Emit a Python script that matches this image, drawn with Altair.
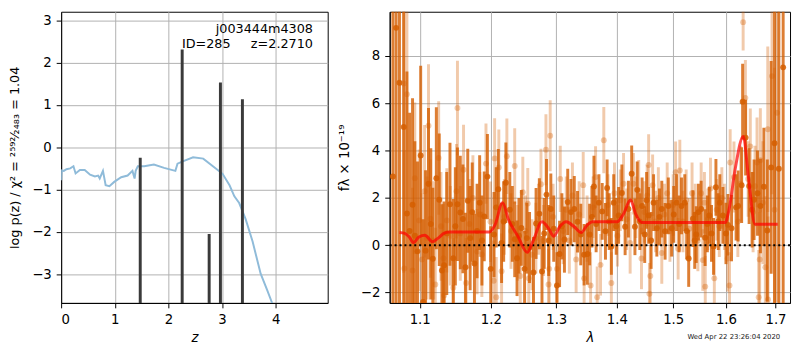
import altair as alt
import pandas as pd

FONT = "DejaVu Sans"
ORANGE = "#d55e00"

# ---------------- left panel: log p(z) ----------------
z_curve = [0.00, 0.01, 0.05, 0.10, 0.17, 0.23, 0.27, 0.35, 0.44, 0.54,
           0.63, 0.69, 0.72, 0.78, 0.83, 0.90, 0.99, 1.12, 1.24, 1.33,
           1.37, 1.39, 1.43, 1.55, 1.73, 1.92, 2.13, 2.17, 2.28, 2.46,
           2.65, 2.83, 3.01, 3.14, 3.23, 3.32, 3.44, 3.57, 3.72, 3.84,
           3.93, 4.00]
logp_curve = [-0.78, -0.55, -0.56, -0.52, -0.50, -0.45, -0.62, -0.54, -0.54, -0.65,
              -0.69, -0.67, -0.74, -0.56, -0.90, -0.92, -0.82, -0.71, -0.67, -0.56,
              -0.74, -0.56, -0.45, -0.45, -0.41, -0.49, -0.56, -0.39, -0.33, -0.24,
              -0.27, -0.45, -0.63, -0.90, -1.16, -1.32, -1.70, -2.23, -2.99, -3.37,
              -3.67, -3.95]
z_peaks = [1.475, 2.257, 2.76, 2.97, 3.38]
peak_top = [-0.25, 2.31, -2.05, 1.53, 1.13]
peak_bottom = [-4.0, -4.0, -4.0, -4.0, -4.0]
z_ticks = [0, 1, 2, 3, 4]
logp_ticks = [-3, -2, -1, 0, 1, 2, 3]
label_lines = ["j003444m4308", "ID=285\u00a0\u00a0\u00a0\u00a0\u00a0z=2.2710"]

# ---------------- right panel: spectrum ----------------
lam_dark = [1.0645, 1.0687, 1.0731, 1.0787, 1.0829, 1.0865, 1.0904, 1.0935, 1.0970, 1.1013,
            1.1045, 1.1079, 1.1119, 1.1150, 1.1178, 1.1226, 1.1266, 1.1303, 1.1333, 1.1370,
            1.1415, 1.1461, 1.1490, 1.1520, 1.1560, 1.1597, 1.1633, 1.1666, 1.1700, 1.1730,
            1.1762, 1.1800, 1.1837, 1.1870, 1.1904, 1.1950, 1.1999, 1.2047, 1.2080, 1.2110,
            1.2159, 1.2190, 1.2223, 1.2282, 1.2320, 1.2356, 1.2391, 1.2420, 1.2457, 1.2506,
            1.2540, 1.2582, 1.2643, 1.2683, 1.2734, 1.2775, 1.2810, 1.2846, 1.2880, 1.2914,
            1.2960, 1.3011, 1.3053, 1.3090, 1.3131, 1.3184, 1.3236, 1.3290, 1.3343, 1.3396,
            1.3451, 1.3505, 1.3542, 1.3580, 1.3614, 1.3650, 1.3697, 1.3752, 1.3807, 1.3835,
            1.3870, 1.3907, 1.3947, 1.3990, 1.4031, 1.4087, 1.4143, 1.4200, 1.4257, 1.4314,
            1.4354, 1.4400, 1.4440, 1.4486, 1.4520, 1.4556, 1.4600, 1.4644, 1.4703, 1.4750,
            1.4792, 1.4852, 1.4911, 1.4972, 1.5010, 1.5062, 1.5110, 1.5153, 1.5214, 1.5250,
            1.5287, 1.5367, 1.5400, 1.5429, 1.5470, 1.5522, 1.5597, 1.5640, 1.5678, 1.5720,
            1.5759, 1.5805, 1.5850, 1.5880, 1.5940, 1.6000, 1.6040, 1.6110, 1.6200, 1.6240,
            1.6310, 1.6330, 1.6390, 1.6460, 1.6520, 1.6560, 1.6630, 1.6690, 1.6760, 1.6830,
            1.6910, 1.6980, 1.7070, 1.7160]
f_dark = [2.91, 9.19, 6.87, 5.0, 1.34, 0.6, 1.71, 0.4, -0.26, 3.79,
          -2.4, -0.23, 2.6, 0.9, -0.57, 2.83, 1.92, -1.07, -0.85, 0.5,
          1.73, -0.55, 0.8, 1.73, 1.38, 1.11, -0.93, 1.88, 0.3, 1.4,
          -0.77, 0.6, 1.8, 0.2, 1.22, 2.9, -1.0, 0.45, 1.6, 2.37,
          0.1, 1.0, 2.64, 1.5, 0.9, 0.25, -0.55, 0.4, 0.73, -1.0,
          0.3, -0.1, -1.15, 0.92, 1.33, -1.11, 0.5, 2.14, 0.2, 1.53,
          0.7, -1.7, -0.37, 0.8, 0.24, 1.83, 1.4, 1.53, 0.99, 0.45,
          -0.4, -0.37, 0.45, 1.2, 2.48, 0.9, 1.8, 1.43, 0.59, 2.42,
          1.0, -0.05, 1.8, 0.8, 1.26, 2.21, 0.78, 1.53, 3.02, 0.78,
          2.34, 1.0, 1.66, 0.45, 1.9, 1.26, 0.2, 1.8, 0.72, 1.2,
          1.53, 0.59, 1.66, 0.72, 1.3, 1.8, 0.9, 1.66, 1.8, 0.6,
          -0.56, 1.12, 0.2, 0.45, 1.4, 1.53, 0.32, 0.9, 1.26, 0.5,
          -0.05, 2.45, 1.0, 1.8, 1.26, 0.5, 0.86, 0.72, 1.6, 1.66,
          2.54, 6.07, 4.55, 2.5, 1.5, 1.92, 2.2, 1.66, 2.47, 0.62,
          3.29, 4.31, 3.23, 7.52]
e_dark = [12, 12, 10, 8, 6, 5, 4.5, 4, 3.8, 3.8,
          3.5, 3.4, 3.2, 3.2, 3.0, 3.0, 2.8, 2.8, 2.7, 2.6,
          2.6, 2.5, 2.5, 2.4, 2.4, 2.3, 2.3, 2.2, 2.2, 2.1,
          2.1, 2.0, 2.0, 1.9, 1.9, 1.8, 1.8, 1.8, 1.7, 1.7,
          1.7, 1.7, 1.7, 1.6, 1.6, 1.6, 1.6, 1.6, 1.6, 1.6,
          1.5, 1.5, 1.5, 1.5, 1.5, 1.5, 1.5, 1.5, 1.5, 1.5,
          1.4, 1.4, 1.4, 1.4, 1.4, 1.4, 1.4, 1.4, 1.3, 1.3,
          1.3, 1.3, 1.3, 1.3, 1.3, 1.2, 1.2, 1.2, 1.2, 1.2,
          1.2, 1.2, 1.2, 1.2, 1.2, 1.2, 1.2, 1.2, 1.2, 1.2,
          1.2, 1.2, 1.2, 1.2, 1.2, 1.2, 1.2, 1.2, 1.2, 1.2,
          1.2, 1.2, 1.2, 1.2, 1.2, 1.2, 1.2, 1.2, 1.2, 1.2,
          1.2, 1.2, 1.2, 1.2, 1.2, 1.2, 1.2, 1.2, 1.2, 1.2,
          1.2, 1.2, 1.2, 1.2, 1.2, 1.3, 1.3, 1.4, 1.4, 1.5,
          1.6, 1.6, 1.6, 1.6, 1.6, 1.7, 1.8, 2.0, 2.5, 3.0,
          4.5, 7, 10, 14]

lam_light = [1.0787, 1.0795, 1.0829, 1.0904, 1.0934, 1.0992, 1.1030, 1.1066, 1.1100, 1.1119,
             1.1146, 1.1190, 1.1212, 1.1258, 1.1290, 1.1325, 1.1333, 1.1371, 1.1420, 1.1461,
             1.1506, 1.1520, 1.1560, 1.1606, 1.1643, 1.1690, 1.1740, 1.1800, 1.1840, 1.1869,
             1.1929, 1.1995, 1.2042, 1.2056, 1.2080, 1.2118, 1.2159, 1.2200, 1.2238, 1.2300,
             1.2356, 1.2400, 1.2440, 1.2479, 1.2520, 1.2555, 1.2570, 1.2620, 1.2680, 1.2720,
             1.2759, 1.2800, 1.2837, 1.2878, 1.2889, 1.2904, 1.2950, 1.3011, 1.3064, 1.3110,
             1.3160, 1.3210, 1.3260, 1.3320, 1.3370, 1.3436, 1.3451, 1.3500, 1.3558, 1.3600,
             1.3641, 1.3668, 1.3724, 1.3779, 1.3850, 1.3907, 1.3960, 1.4010, 1.4060, 1.4116,
             1.4170, 1.4230, 1.4287, 1.4330, 1.4380, 1.4429, 1.4480, 1.4530, 1.4556, 1.4570,
             1.4586, 1.4627, 1.4680, 1.4730, 1.4792, 1.4840, 1.4890, 1.4940, 1.5000, 1.5044,
             1.5091, 1.5122, 1.5180, 1.5240, 1.5300, 1.5350, 1.5410, 1.5460, 1.5522, 1.5553,
             1.5584, 1.5600, 1.5650, 1.5700, 1.5774, 1.5820, 1.5870, 1.5920, 1.5970, 1.6034,
             1.6070, 1.6083, 1.6158, 1.6235, 1.6290, 1.6340, 1.6385, 1.6440, 1.6484, 1.6540,
             1.6580, 1.6620, 1.6654, 1.6674, 1.6688, 1.6740, 1.6790, 1.6840, 1.6846, 1.6928,
             1.6980, 1.7033]
f_light = [6.84, -0.98, 6.38, -1.07, 2.83, 1.05, -0.6, 2.28, 0.3, 5.05,
           1.12, 0.2, -1.66, 3.69, 0.8, -0.55, -2.13, 1.05, 0.4, -1.8,
           2.28, 5.8, 0.5, 3.19, -1.6, 0.9, 2.0, -0.27, 1.3, -0.39,
           3.45, 0.99, -1.5, 3.67, -2.2, 3.29, -1.1, 1.2, 3.76, 0.6,
           3.35, 0.1, -1.3, 2.24, 0.6, 1.76, -1.4, -0.4, 0.3, 1.1,
           2.58, 0.2, 4.04, -1.66, -1.0, 4.63, 1.2, -1.0, 2.8, 0.6,
           1.5, 0.2, 2.1, -0.6, 1.3, 2.54, -1.4, 0.7, -1.7, 1.6,
           2.88, -2.2, -0.83, 4.44, 1.7, -1.6, 2.2, 0.4, 1.9, 2.6,
           1.1, 0.1, 2.6, 1.6, 2.3, -0.56, 1.4, 2.1, 3.39, -2.05,
           -1.3, 2.54, 1.0, 2.0, -0.33, 1.3, 2.2, 0.6, 1.7, 3.09,
           -0.15, 3.16, 1.0, 1.9, 0.7, 2.2, 1.3, 0.2, 2.2, -0.63,
           1.8, -1.75, 1.1, 2.4, -1.4, 1.5, 0.8, 2.0, 1.2, -0.56,
           -1.7, 3.5, 2.88, 1.0, 2.6, 9.43, 6.23, 2.8, 4.18, 1.4,
           2.5, 3.5, -2.2, -0.6, 3.59, 1.8, -0.93, 4.9, -2.29, 7.15,
           1.5, 5.6]
e_light = [8, 5, 6, 3.5, 3.2, 3.0, 2.8, 2.8, 2.6, 2.6,
           2.5, 2.5, 2.4, 2.4, 2.3, 2.3, 2.2, 2.2, 2.1, 2.1,
           2.0, 2.0, 2.0, 1.9, 1.9, 1.9, 1.8, 1.8, 1.8, 1.8,
           1.7, 1.7, 1.7, 1.7, 1.7, 1.6, 1.6, 1.6, 1.6, 1.6,
           1.6, 1.6, 1.5, 1.5, 1.5, 1.5, 1.5, 1.5, 1.5, 1.5,
           1.5, 1.5, 1.5, 1.5, 1.5, 1.5, 1.4, 1.4, 1.4, 1.4,
           1.4, 1.4, 1.4, 1.4, 1.4, 1.4, 1.4, 1.4, 1.4, 1.3,
           1.3, 1.3, 1.3, 1.4, 1.3, 1.3, 1.3, 1.3, 1.3, 1.3,
           1.3, 1.3, 1.3, 1.3, 1.3, 1.3, 1.3, 1.3, 1.3, 1.3,
           1.3, 1.3, 1.3, 1.3, 1.3, 1.3, 1.3, 1.3, 1.3, 1.3,
           1.3, 1.3, 1.3, 1.3, 1.3, 1.3, 1.3, 1.3, 1.3, 1.3,
           1.3, 1.3, 1.3, 1.3, 1.3, 1.3, 1.3, 1.3, 1.4, 1.4,
           1.4, 1.4, 1.5, 1.5, 1.6, 1.2, 1.6, 1.6, 1.6, 1.7,
           1.7, 1.9, 2.0, 2.0, 2.2, 2.6, 3.0, 3.5, 3.5, 5,
           6, 8]

lam_model = [1.0731, 1.0800, 1.0860, 1.0916, 1.0990, 1.1070, 1.1173, 1.1250, 1.1330, 1.1400,
             1.1980, 1.2060, 1.2174, 1.2260, 1.2400, 1.2546, 1.2640, 1.2774, 1.2880, 1.2960,
             1.3060, 1.3160, 1.3280, 1.3404, 1.3500, 1.3590, 1.4006, 1.4110, 1.4235, 1.4330,
             1.4433, 1.5985, 1.6060, 1.6180, 1.6343, 1.6450, 1.6578, 1.7046]
f_model = [0.54, 0.50, 0.35, 0.11, 0.35, 0.42, 0.15, 0.30, 0.50, 0.56,
           0.56, 0.85, 1.80, 1.10, 0.40, -0.30, 0.20, 0.99, 0.70, 0.38,
           0.80, 0.99, 0.80, 0.54, 0.85, 0.99, 0.99, 1.30, 1.91, 1.30,
           0.96, 0.96, 1.50, 3.20, 4.60, 2.80, 0.89, 0.89]
lam_ticks = [1.1, 1.2, 1.3, 1.4, 1.5, 1.6, 1.7]
f_ticks = [-2, 0, 2, 4, 6, 8]
timestamp = ["Wed Apr 22 23:26:04 2020"]

# ---------------- tables ----------------
curve_df = pd.DataFrame({"z": z_curve, "v": logp_curve})
peaks_df = pd.DataFrame({"z": z_peaks, "v": peak_top, "v2": peak_bottom})
dark_df = pd.DataFrame({"lam": lam_dark, "f": f_dark, "e": e_dark})
dark_df["lo"] = dark_df["f"] - dark_df["e"]
dark_df["hi"] = dark_df["f"] + dark_df["e"]
light_df = pd.DataFrame({"lam": lam_light, "f": f_light, "e": e_light})
light_df["lo"] = light_df["f"] - light_df["e"]
light_df["hi"] = light_df["f"] + light_df["e"]
model_df = pd.DataFrame({"lam": lam_model, "f": f_model})

LW, LH = 271, 296
RW = 407
FS = 13.5

zscale = alt.Scale(domain=[0, 4.97], nice=False, zero=False)
pscale = alt.Scale(domain=[-3.68, 3.2], nice=False, zero=False)
zaxis = alt.Axis(values=z_ticks, format="d", title="z", titleFontStyle="italic", titlePadding=5)
paxis = alt.Axis(values=logp_ticks, format="d", title="log p(z) / χ² = ²⁵⁹²⁄₂₄₈₃ = 1.04",
                 titlePadding=10, titleFontSize=13)

X = alt.X("z:Q", scale=zscale, axis=zaxis)

left_curve = alt.Chart(curve_df).mark_line(clip=True, color="#8fbbd9", strokeWidth=2).encode(
    x=X, y=alt.Y("v:Q", scale=pscale, axis=paxis))
left_peaks = alt.Chart(peaks_df).mark_rule(clip=True, color="#3a3a3a", strokeWidth=3).encode(
    x=X, y=alt.Y("v:Q", scale=pscale, axis=paxis), y2="v2:Q")
txt1 = alt.Chart(pd.DataFrame({"t": [label_lines[0]]})).mark_text(
    align="right", baseline="middle", fontSize=13, font=FONT, color="black").encode(
    text="t:N", x=alt.value(256), y=alt.value(18))
txt2 = alt.Chart(pd.DataFrame({"t": [label_lines[1]]})).mark_text(
    align="right", baseline="middle", fontSize=13, font=FONT, color="black").encode(
    text="t:N", x=alt.value(256), y=alt.value(33))

left = alt.layer(left_curve, left_peaks, txt1, txt2).properties(width=LW, height=LH)

lscale = alt.Scale(type="log", domain=[1.0603, 1.7305], nice=False, zero=False)
fscale = alt.Scale(domain=[-2.44, 9.87], nice=False, zero=False)
laxis = alt.Axis(values=lam_ticks, format=".1f", title="λ", titleFontStyle="italic", titlePadding=5)
faxis = alt.Axis(values=f_ticks, format="d", title="fλ × 10⁻¹⁹", titlePadding=9)
LX = alt.X("lam:Q", scale=lscale, axis=laxis)

light_bars = alt.Chart(light_df).mark_rule(clip=True, color=ORANGE, opacity=0.33, strokeWidth=3).encode(
    x=LX, y=alt.Y("lo:Q", scale=fscale, axis=faxis), y2="hi:Q")
light_pts = alt.Chart(light_df).mark_circle(clip=True, color=ORANGE, opacity=0.33, size=36).encode(
    x=LX, y=alt.Y("f:Q", scale=fscale, axis=faxis))
dark_bars = alt.Chart(dark_df).mark_rule(clip=True, color=ORANGE, opacity=0.8, strokeWidth=3).encode(
    x=LX, y=alt.Y("lo:Q", scale=fscale, axis=faxis), y2="hi:Q")
dark_pts = alt.Chart(dark_df).mark_circle(clip=True, color=ORANGE, opacity=0.85, size=36).encode(
    x=LX, y=alt.Y("f:Q", scale=fscale, axis=faxis))
zero_line = alt.Chart(pd.DataFrame({"f": [0]})).mark_rule(
    color="black", strokeWidth=2, strokeDash=[2, 3]).encode(
    y=alt.Y("f:Q", scale=fscale, axis=faxis))
model_line = alt.Chart(model_df).mark_line(clip=True, color="red", opacity=0.7, strokeWidth=3,
                                           interpolate="monotone").encode(
    x=LX, y=alt.Y("f:Q", scale=fscale, axis=faxis))
stamp = alt.Chart(pd.DataFrame({"t": timestamp})).mark_text(
    align="right", baseline="middle", fontSize=7, font=FONT, color="#222").encode(
    text="t:N", x=alt.value(397), y=alt.value(331))

right = alt.layer(light_bars, light_pts, dark_bars, dark_pts, zero_line, model_line, stamp).properties(
    width=RW, height=LH)

chart = alt.hconcat(left, right, spacing=8).properties(
    padding={"left": 0, "top": 0, "right": 0, "bottom": 0}
).configure(font=FONT).configure_axis(
    labelFont=FONT, titleFont=FONT, labelFontSize=FS, titleFontSize=FS,
    labelColor="black", titleColor="black", titleFontWeight="normal",
    domainColor="black", domainWidth=1, tickColor="black", tickSize=5, labelPadding=5,
    gridColor="#b0b0b0", gridWidth=1,
).configure_view(stroke="black", strokeWidth=1)

chart.save("out.html", embed_options={"renderer": "svg", "actions": False})
